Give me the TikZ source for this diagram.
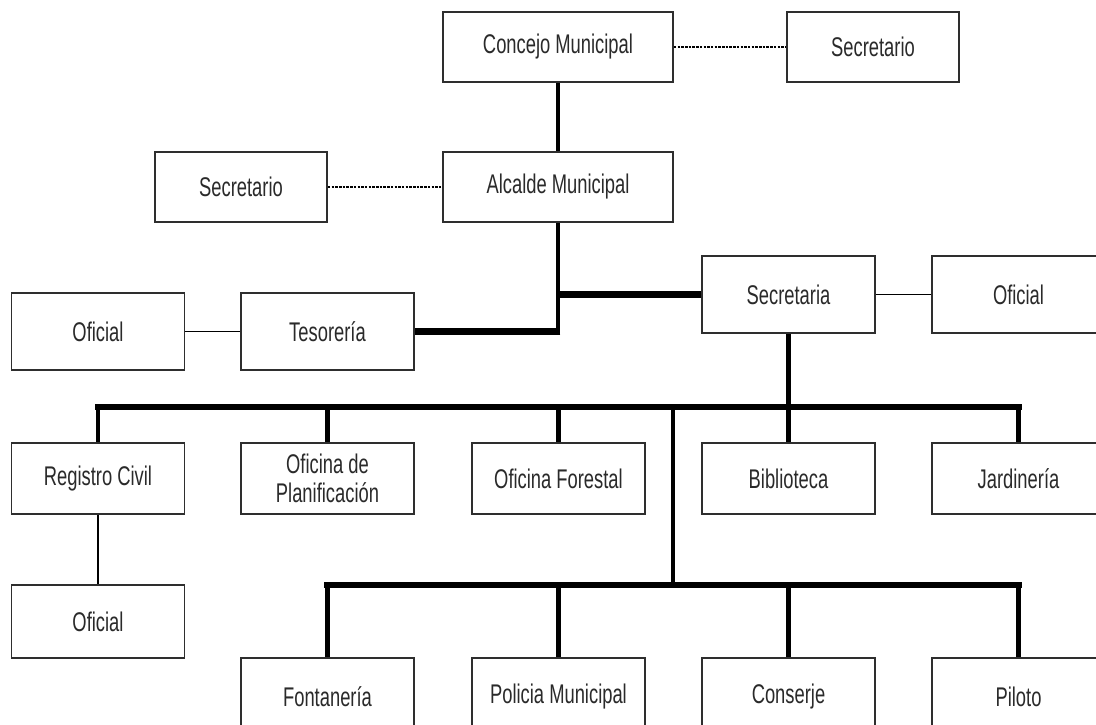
\documentclass[tikz,border=0pt]{standalone}
\usepackage{fontspec}
\setmainfont{Liberation Sans}[FakeStretch=0.68]
\definecolor{boxline}{HTML}{2E2E2E}
\definecolor{txt}{HTML}{2A2A2A}
\begin{document}
\begin{tikzpicture}[x=1pt,y=-1pt,
  unit/.style={draw=boxline, line width=1.8pt, fill=white, text=txt,
    font=\fontsize{27}{29}\selectfont, align=center, inner sep=0pt,
    minimum width=173pt, minimum height=#1},
  unit/.default=71pt,
  wide/.style={unit=70pt, minimum width=230pt},
  small/.style={unit=70pt, minimum width=172pt},
  dotline/.style={line width=1.6pt, dash pattern=on 2.5pt off 1.2pt},
  thinline/.style={line width=1.6pt},
  drop/.style={line width=4.5pt},
  busline/.style={line width=6.5pt, line cap=rect}]
\useasboundingbox (0,0) rectangle (1096,725);
\fill[white] (0,0) rectangle (1096,725);
\clip (0,0) rectangle (1096,725);

% top levels
\node[wide]  (concejo) at (558,47)  {Concejo Municipal};
\node[small] (secR)    at (873,47)  {Secretario};
\node[small] (secL)    at (241,187) {Secretario};
\node[wide]  (alcalde) at (558,187) {Alcalde Municipal};

% second level
\node[unit=77pt] (secretaria) at (788.5,294.5)  {Secretaria};
\node[unit=77pt] (oficialR)   at (1018.5,294.5) {Oficial};
\node[unit=77pt] (oficialL)   at (98,331.5)     {Oficial};
\node[unit=77pt] (tesoreria)  at (327.5,331.5)  {Tesorería};

% departments
\node[unit] (registro) at (98,478.5)     {Registro Civil};
\node[unit] (planif)   at (327.5,478.5)  {Oficina de\\Planificación};
\node[unit] (forestal) at (558.5,478.5)  {Oficina Forestal};
\node[unit] (biblio)   at (788.5,478.5)  {Biblioteca};
\node[unit] (jardin)   at (1018.5,478.5) {Jardinería};

\node[unit=73pt] (oficialB) at (98,621.5) {Oficial};

% services
\node[unit=77pt] (fontaneria) at (327.5,696.5)  {Fontanería};
\node[unit=77pt] (policia)    at (558.5,696.5)  {Policia Municipal};
\node[unit=77pt] (conserje)   at (788.5,696.5)  {Conserje};
\node[unit=77pt] (piloto)     at (1018.5,696.5) {Piloto};

% bus junctions
\coordinate (bus)  at (673,407);
\coordinate (bus2) at (673,585);
\coordinate (j1) at (alcalde.south |- secretaria.west);

% staff links
\draw[dotline] (concejo.east) -- (secR.west);
\draw[dotline] (secL.east) -- (alcalde.west);
\draw[thinline] (oficialL.east) -- (tesoreria.west);
\draw[thinline] (secretaria.east) -- (oficialR.west);
\draw[thinline] (registro.south) -- (oficialB.north);

% line of command
\draw[drop] (concejo.south) -- (alcalde.north);
\draw[drop] (alcalde.south) -- (alcalde.south |- tesoreria.east);
\draw[busline, line cap=butt] (alcalde.south |- tesoreria.east) ++(2.25,0) -- (tesoreria.east);
\draw[busline, line cap=butt] (j1) -- (secretaria.west);
\draw[drop] (secretaria.south) -- (secretaria.south |- bus);

\draw[busline] (registro.north |- bus) -- (jardin.north |- bus);
\foreach \n in {registro,planif,forestal,biblio,jardin}
  \draw[drop] (\n.north |- bus) -- (\n.north);
\draw[drop] (bus) -- (bus2);

\draw[busline] (fontaneria.north |- bus2) -- (piloto.north |- bus2);
\foreach \n in {fontaneria,policia,conserje,piloto}
  \draw[drop] (\n.north |- bus2) -- (\n.north);
\end{tikzpicture}
\end{document}
